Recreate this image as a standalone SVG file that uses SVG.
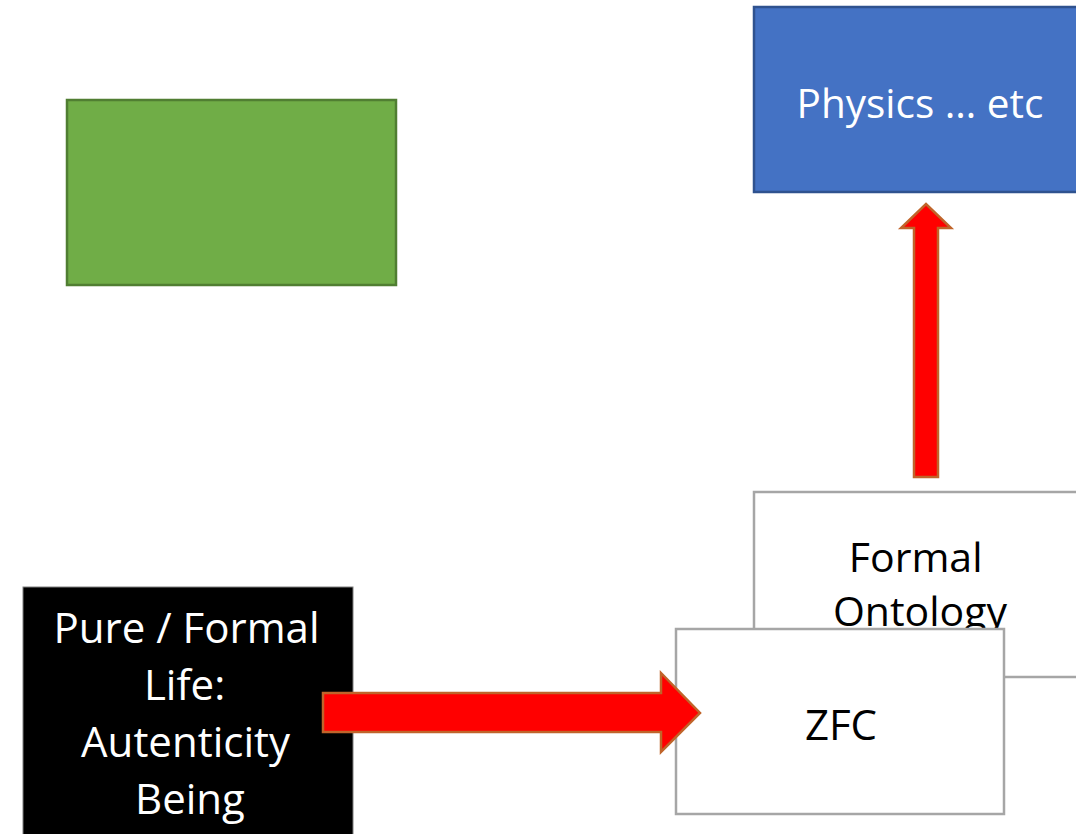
<svg xmlns="http://www.w3.org/2000/svg" width="1076" height="834" viewBox="0 0 1076 834">
  <style>
    .lbl { font-family: "Open Sans", "Liberation Sans", sans-serif; text-anchor: middle; }
    .wt { fill: #ffffff; }
    .bk { fill: #000000; }
    .box { fill: #ffffff; stroke: #a6a6a6; stroke-width: 2.5; }
    .arrow { fill: #ff0000; stroke: #c0642a; stroke-width: 2.5; stroke-linejoin: miter; }
  </style>
  <rect width="1076" height="834" fill="#ffffff"/>

  <g id="physics">
    <rect x="754" y="7" width="330" height="185" fill="#4472c4" stroke="#2f528f" stroke-width="2.5"/>
    <text class="lbl wt" x="920" y="118" font-size="40.5">Physics … etc</text>
  </g>

  <g id="green-box">
    <rect x="67" y="100" width="329" height="185" fill="#70ad47" stroke="#507e32" stroke-width="2.5"/>
  </g>

  <g id="pure-formal-life">
    <rect x="23" y="587" width="330" height="260" fill="#000000" stroke="#7f7f7f" stroke-width="1"/>
    <text class="lbl wt" font-size="42">
      <tspan x="192" y="643">Pure / Formal</tspan>
      <tspan x="190" y="700">Life:</tspan>
      <tspan x="191" y="757">Autenticity</tspan>
      <tspan x="190" y="814">Being</tspan>
    </text>
  </g>

  <g id="formal-ontology">
    <rect class="box" x="754" y="492" width="330" height="185"/>
    <text class="lbl bk" font-size="41">
      <tspan x="921" y="572">Formal</tspan>
      <tspan x="920" y="626">Ontology</tspan>
    </text>
  </g>

  <g id="zfc">
    <rect class="box" x="676" y="629" width="328" height="185"/>
    <text class="lbl bk" x="841" y="740" font-size="42">ZFC</text>
  </g>

  <g id="connectors">
    <!-- block arrow: Pure / Formal Life -> ZFC -->
    <path class="arrow" d="M323,693 L661,693 L661,673 L700,713 L661,752 L661,732 L323,732 Z"/>
    <!-- block arrow: Formal Ontology -> Physics -->
    <path class="arrow" d="M914,477 L914,228 L901,228 L926,204 L951,228 L938,228 L938,477 Z"/>
  </g>
</svg>
